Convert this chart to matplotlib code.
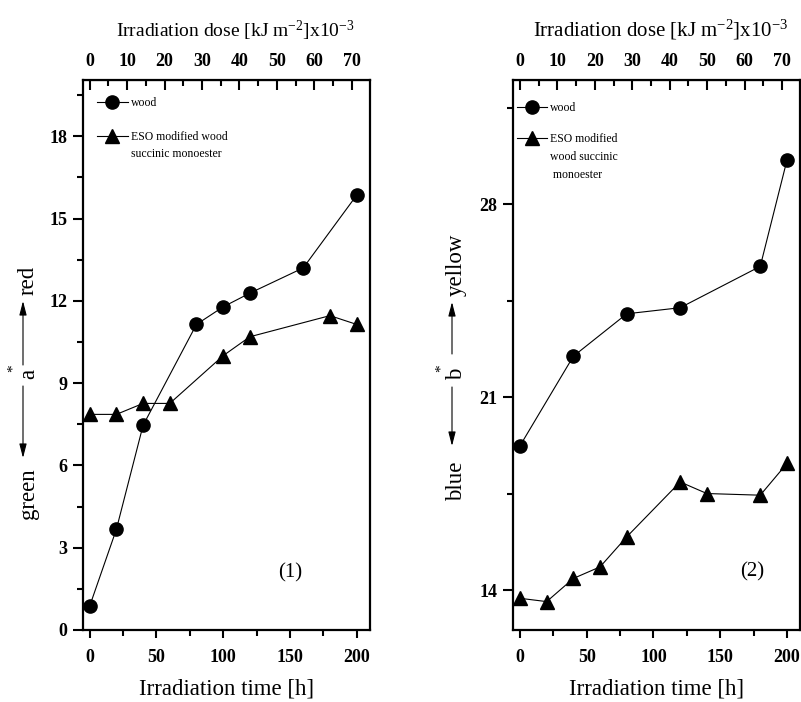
import matplotlib
matplotlib.use("Agg")
import matplotlib.pyplot as plt
from matplotlib.ticker import MultipleLocator

plt.rcParams['font.family'] = ['Liberation Serif', 'DejaVu Serif']
plt.rcParams['mathtext.fontset'] = 'custom'
plt.rcParams['mathtext.rm'] = 'Liberation Serif'
plt.rcParams['mathtext.it'] = 'Liberation Serif:italic'
plt.rcParams['mathtext.bf'] = 'Liberation Serif:bold'

# ---- data: panel (1) a* ----
t_wood_a = [0, 20, 40, 80, 100, 120, 160, 200]
a_wood = [0.87, 3.67, 7.46, 11.14, 11.78, 12.28, 13.2, 15.85]
t_eso_a = [0, 20, 40, 60, 100, 120, 180, 200]
a_eso = [7.86, 7.86, 8.26, 8.26, 10.0, 10.69, 11.46, 11.14]

# ---- data: panel (2) b* ----
t_wood_b = [0, 40, 80, 120, 180, 200]
b_wood = [19.23, 22.48, 24.02, 24.24, 25.74, 29.59]
t_eso_b = [0, 20, 40, 60, 80, 120, 140, 180, 200]
b_eso = [13.70, 13.58, 14.42, 14.84, 15.93, 17.92, 17.50, 17.44, 18.59]

dose_per_hour = 0.3565  # kJ m^-2 x10^-3 per hour

W, H = 801, 702
fig = plt.figure(figsize=(W / 100, H / 100), dpi=100)

def px_rect(x0, y_top, w, h):
    return [x0 / W, 1 - (y_top + h) / H, w / W, h / H]

ax1 = fig.add_axes(px_rect(83, 80, 287, 550))
ax2 = fig.add_axes(px_rect(513.3, 80, 287, 550))

line_kw = dict(color='black', lw=0.8)
top_label = r'Irradiation dose [kJ m$^{\mathregular{-2}}$]x10$^{\mathregular{-3}}$'
for ax, tw, yw, te, ye, fs_top, lx in [(ax1, t_wood_a, a_wood, t_eso_a, a_eso, 14, 0.531),
                                       (ax2, t_wood_b, b_wood, t_eso_b, b_eso, 15, 0.513)]:
    ax.plot(tw, yw, marker='o', ms=9.5, mfc='black', mec='black', label='wood', **line_kw)
    ax.plot(te, ye, marker='^', ms=10.5, mfc='black', mec='black', label='eso', **line_kw)
    ax.set_xlim(-5, 210)
    ax.xaxis.set_major_locator(MultipleLocator(50))
    ax.xaxis.set_minor_locator(MultipleLocator(25))
    for s in ax.spines.values():
        s.set_linewidth(1.6)
    ax.tick_params(axis='both', which='major', direction='out', length=7.5, width=1.5,
                   labelsize=13, top=False, right=False)
    ax.tick_params(axis='both', which='minor', direction='out', length=4, width=1.5,
                   top=False, right=False)
    ax.tick_params(axis='x', which='major', length=5.5, pad=8.5)
    ax.tick_params(axis='y', which='major', pad=4)
    ax.set_xlabel('Irradiation time [h]', fontsize=16.5, labelpad=8.5)

    sec = ax.secondary_xaxis('top', functions=(lambda t: t * dose_per_hour,
                                               lambda d: d / dose_per_hour))
    sec.xaxis.set_major_locator(MultipleLocator(10))
    sec.xaxis.set_minor_locator(MultipleLocator(5))
    sec.tick_params(which='major', direction='in', length=7, width=1.5, labelsize=13, pad=7)
    sec.tick_params(which='minor', direction='in', length=4, width=1.5)
    for lab in sec.get_xticklabels():
        lab.set_fontweight('bold')
    sec.set_xlabel(top_label, fontsize=fs_top, labelpad=12)
    sec.xaxis.label.set_x(lx)

ax1.set_ylim(0, 20.05)
ax1.yaxis.set_major_locator(MultipleLocator(3))
ax1.yaxis.set_minor_locator(MultipleLocator(1.5))
ax2.set_ylim(12.55, 32.5)
ax2.yaxis.set_major_locator(MultipleLocator(7))
ax2.yaxis.set_minor_locator(MultipleLocator(3.5))
for ax in (ax1, ax2):
    for lab in ax.get_xticklabels() + ax.get_yticklabels():
        lab.set_fontweight('bold')

ax1.text(150, 2.08, '(1)', fontsize=15, ha='center', va='center')
ax2.text(174, 14.66, '(2)', fontsize=15, ha='center', va='center')

# legends
leg_kw = dict(loc='upper left', frameon=False, fontsize=8.5, handlelength=2.6,
              handletextpad=0.25, borderpad=0, borderaxespad=0)
h1, _ = ax1.get_legend_handles_labels()
leg1 = ax1.legend(h1, ['wood', 'ESO modified wood'], bbox_to_anchor=(14 / 287, 1 - 17 / 550),
                  labelspacing=1.87, **leg_kw)
h2, _ = ax2.get_legend_handles_labels()
leg2 = ax2.legend(h2, ['wood', 'ESO modified'], bbox_to_anchor=(3.4 / 287, 1 - 22 / 550),
                  labelspacing=1.62, **leg_kw)

# y-axis labels with arrows (figure pixel layout)
def ftext(x, y, s, **kw):
    fig.text(x / W, 1 - y / H, s, rotation=90, rotation_mode='anchor',
             ha='center', va='baseline', **kw)

def farrow(x, y0, y1):
    fig.add_artist(matplotlib.patches.FancyArrowPatch(
        (x / W, 1 - y0 / H), (x / W, 1 - y1 / H), transform=fig.transFigure,
        arrowstyle='-|>,head_length=0.85,head_width=0.22', mutation_scale=10,
        lw=0.8, color='black', shrinkA=0, shrinkB=0))

def ylabel_block(xb, xa, xs, word_top, ytop, word_bot, ybot, letter, ylet, a_up, a_dn):
    ftext(xb, ytop, word_top, fontsize=16.5)
    ftext(xb, ylet, letter, fontsize=16.5)
    ftext(xs, ylet - 6, '*', fontsize=11)
    ftext(xb, ybot, word_bot, fontsize=16.5)
    farrow(xa, a_up[0], a_up[1])
    farrow(xa, a_dn[0], a_dn[1])

ylabel_block(34, 23, 17, 'red', 280, 'green', 494, 'a', 374, (365, 301), (386, 458))
ylabel_block(462, 452, 445, 'yellow', 265, 'blue', 481, 'b', 374, (354, 302), (387, 446))

# continuation lines of the multi-line legend labels
fig.canvas.draw()
def continue_label(leg, idx, lines, step):
    bb = leg.get_texts()[idx].get_window_extent()
    for k, s in enumerate(lines, start=1):
        fig.text(bb.x0 / W, (bb.y0 - k * step) / H, s, fontsize=8.5,
                 ha='left', va='bottom')

continue_label(leg1, 1, ['succinic monoester'], 17)
continue_label(leg2, 1, ['wood succinic', ' monoester'], 18)

fig.savefig('out.png', dpi=100)
